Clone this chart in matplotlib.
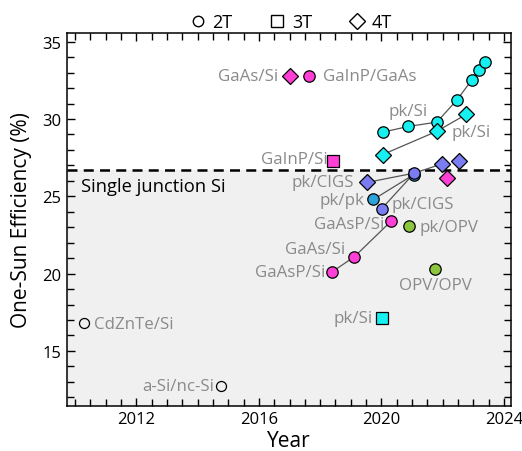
import matplotlib.pyplot as plt
from matplotlib.lines import Line2D
from matplotlib.ticker import MultipleLocator

plt.rcParams['font.family'] = ['Open Sans', 'DejaVu Sans']

# 2T perovskite/Si
pksi_2t_year = [2020.04, 2020.88, 2021.81, 2022.47, 2022.94, 2023.17, 2023.38]
pksi_2t_eff = [29.15, 29.52, 29.8, 31.25, 32.5, 33.2, 33.7]
# 4T perovskite/Si
pksi_4t_year = [2020.04, 2021.8, 2022.77]
pksi_4t_eff = [27.7, 29.2, 30.3]
# III-V on Si (2T)
gaasp_year = [2018.38, 2019.12, 2020.32]
gaasp_eff = [20.1, 21.1, 23.4]
# perovskite/CIGS
pkcigs_2t_year = [2020.01, 2021.07]
pkcigs_2t_eff = [24.2, 26.5]
pkcigs_4t_year = [2019.53, 2021.07, 2021.98]
pkcigs_4t_eff = [25.9, 26.5, 27.1]
pkcigs_4t_last = (2022.53, 27.3)
# perovskite/perovskite
pkpk_year = [2019.74, 2021.05]
pkpk_eff = [24.8, 26.4]
# organic
pkopv = (2020.91, 23.1)
opvopv = (2021.76, 20.3)
# single points
gaas_si_4t = (2017.0, 32.8)
gainp_gaas = (2017.65, 32.8)
gainp_si_3t = (2018.41, 27.3)
pksi_3t = (2020.02, 17.1)
cdznte_si = (2010.29, 16.8)
asi_ncsi = (2014.77, 12.7)
iii_v_4t = (2022.14, 26.2)

si_record = 26.7

cyan = '#17f0f0'
magenta = '#ff3fd6'
purple = '#7a7cf2'
blue = '#2da3dc'
green = '#8cc63f'
lab = '#8a8a8a'

fig = plt.figure(figsize=(5.22, 4.52), dpi=100)
ax = fig.add_axes([0.128, 0.1, 0.851, 0.825])

xmin, xmax = 2009.73, 2024.23
ymin, ymax = 11.45, 35.57
ax.set_xlim(xmin, xmax)
ax.set_ylim(ymin, ymax)

ax.axhspan(ymin, si_record, color='#f0f0f0', zorder=0)
ax.axhline(si_record, color='black', ls=(0, (4, 2.5)), lw=1.8, zorder=1)
ax.text(2010.2, 25.66, 'Single junction Si', fontsize=13.2, va='center', color='black')

lk = dict(color='#555555', lw=0.9, zorder=2)
mk = dict(mec='black', mew=0.9, zorder=3, ls='none')
cs, ds, ss = 8.2, 8.5, 8

ax.plot(pksi_2t_year, pksi_2t_eff, **lk)
ax.plot(pksi_2t_year, pksi_2t_eff, 'o', ms=cs, mfc=cyan, **mk)
ax.plot(pksi_4t_year, pksi_4t_eff, **lk)
ax.plot(pksi_4t_year, pksi_4t_eff, 'D', ms=ds, mfc=cyan, **mk)

ax.plot(gaasp_year, gaasp_eff, **lk)
ax.plot(gaasp_year, gaasp_eff, 'o', ms=cs, mfc=magenta, **mk)

ax.plot(pkcigs_4t_year, pkcigs_4t_eff, **lk)
ax.plot(pkcigs_4t_year[::2], pkcigs_4t_eff[::2], 'D', ms=ds, mfc=purple, **mk)
ax.plot(*pkcigs_4t_last, 'D', ms=ds, mfc=purple, **mk)
ax.plot(pkpk_year, pkpk_eff, **lk)
ax.plot(pkpk_year, pkpk_eff, 'o', ms=cs, mfc=blue, **mk)
ax.plot(pkcigs_2t_year, pkcigs_2t_eff, **lk)
ax.plot(pkcigs_2t_year, pkcigs_2t_eff, 'o', ms=cs, mfc=purple, **mk)

ax.plot(*pkopv, 'o', ms=cs, mfc=green, **mk)
ax.plot(*opvopv, 'o', ms=cs, mfc=green, **mk)
ax.plot(*gaas_si_4t, 'D', ms=ds, mfc=magenta, **mk)
ax.plot(*gainp_gaas, 'o', ms=cs, mfc=magenta, **mk)
ax.plot(*iii_v_4t, 'D', ms=ds, mfc=magenta, **mk)
ax.plot(*gainp_si_3t, 's', ms=ss, mfc=magenta, **mk)
ax.plot(*pksi_3t, 's', ms=ss, mfc=cyan, **mk)
ax.plot(*cdznte_si, 'o', ms=7.2, mfc='none', **mk)
ax.plot(*asi_ncsi, 'o', ms=7.2, mfc='none', **mk)

fs = 12.2
ax.text(2020.86, 30.55, 'pk/Si', fontsize=fs, color=lab, ha='center', va='center')
ax.text(2022.3, 29.16, 'pk/Si', fontsize=fs, color=lab, va='center')
ax.text(2016.62, 32.8, 'GaAs/Si', fontsize=fs, color=lab, ha='right', va='center')
ax.text(2018.08, 32.8, 'GaInP/GaAs', fontsize=fs, color=lab, va='center')
ax.text(2018.23, 27.4, 'GaInP/Si', fontsize=fs, color=lab, ha='right', va='center')
ax.text(2019.1, 25.92, 'pk/CIGS', fontsize=fs, color=lab, ha='right', va='center')
ax.text(2019.45, 24.77, 'pk/pk', fontsize=fs, color=lab, ha='right', va='center')
ax.text(2020.34, 24.5, 'pk/CIGS', fontsize=fs, color=lab, va='center')
ax.text(2020.1, 23.2, 'GaAsP/Si', fontsize=fs, color=lab, ha='right', va='center')
ax.text(2021.25, 23.0, 'pk/OPV', fontsize=fs, color=lab, va='center')
ax.text(2018.8, 21.58, 'GaAs/Si', fontsize=fs, color=lab, ha='right', va='center')
ax.text(2018.15, 20.09, 'GaAsP/Si', fontsize=fs, color=lab, ha='right', va='center')
ax.text(2021.77, 19.25, 'OPV/OPV', fontsize=fs, color=lab, ha='center', va='center')
ax.text(2019.72, 17.1, 'pk/Si', fontsize=fs, color=lab, ha='right', va='center')
ax.text(2010.63, 16.72, 'CdZnTe/Si', fontsize=fs, color=lab, va='center')
ax.text(2014.55, 12.7, 'a-Si/nc-Si', fontsize=fs, color=lab, ha='right', va='center')

ax.xaxis.set_major_locator(MultipleLocator(4))
ax.xaxis.set_minor_locator(MultipleLocator(0.5))
ax.yaxis.set_major_locator(MultipleLocator(5))
ax.yaxis.set_minor_locator(MultipleLocator(1))
ax.tick_params(which='both', direction='in', top=True, right=True, width=1, labelsize=12)
ax.tick_params(which='major', length=6, pad=4)
ax.tick_params(which='minor', length=5)
for s in ax.spines.values():
    s.set_linewidth(1.1)

ax.set_xlabel('Year', fontsize=15, labelpad=2)
ax.set_ylabel('One-Sun Efficiency (%)', fontsize=15, labelpad=7)

handles = [
    Line2D([], [], marker='o', ls='none', mfc='white', mec='black', ms=7.5, label='2T'),
    Line2D([], [], marker='s', ls='none', mfc='white', mec='black', ms=8, label='3T'),
    Line2D([], [], marker='D', ls='none', mfc='white', mec='black', ms=8, label='4T'),
]
fig.legend(handles=handles, loc='center', bbox_to_anchor=(0.556, 0.949), ncol=3,
           frameon=False, fontsize=13, handletextpad=0.3, columnspacing=2.0,
           handlelength=1.0)

fig.savefig('out.png', dpi=100)
